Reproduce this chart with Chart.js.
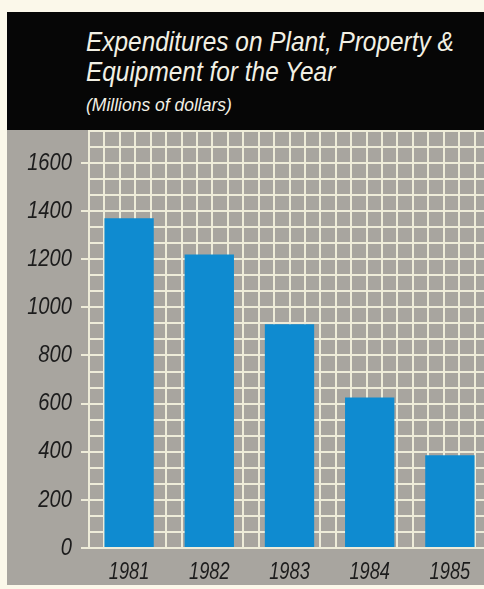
<!DOCTYPE html>
<html>
<head>
<meta charset="utf-8">
<script src="https://cdn.jsdelivr.net/npm/chart.js@4.4.1/dist/chart.umd.min.js"></script>
<style>
  html, body { margin: 0; padding: 0; }
  body { width: 484px; height: 589px; overflow: hidden; background: #fbf8ea; position: relative; }
  .band { position: absolute; left: 7px; top: 12px; width: 490px; height: 118px; background: #060606; }
  .panel { position: absolute; left: 7px; top: 130px; width: 490px; height: 455px; background: #a8a59f; }
  .title, .sub { position: absolute; left: 86px; color: #f2f0e4; font-family: "Liberation Sans", Arial, sans-serif; font-style: italic; white-space: nowrap; transform-origin: 0 0; }
  .title { top: 27px; font-size: 28px; line-height: 29.5px; transform: scaleX(0.872); }
  .sub { top: 95px; font-size: 17.5px; line-height: 20px; }
  .wrap { position: absolute; left: 0; top: 130px; width: 490px; height: 455px; }
</style>
</head>
<body>
<div class="band"></div>
<div class="title">Expenditures on Plant, Property &amp;<br>Equipment for the Year</div>
<div class="sub">(Millions of dollars)</div>
<div class="panel"></div>
<div class="wrap"><canvas id="c"></canvas></div>
<script>
const years = ["1981", "1982", "1983", "1984", "1985"]
const spending = [1370, 1220, 930, 625, 385]
const yLabels = [0, 200, 400, 600, 800, 1000, 1200, 1400, 1600]
const yMax = 1737

// three grid cells per labelled step, 25 cells across
const cellValue = 200 / 3
const cellsAcross = 25

const gridColor = "#eeecd9"
const tickFont = {family: "'Liberation Sans', Arial, sans-serif", style: "italic", size: 24}

function isLabelled(v){
    return yLabels.some(l => Math.abs(l - v) < 0.01)
}

// squeeze the axis numbers horizontally around their anchor point
const condensed = {
    id: "condensed",
    beforeDraw(chart){
        const fill = chart.ctx.fillText
        chart.ctx.fillText = function(t, x, y, w){
            const k = this.textAlign === "center" ? 0.76 : 0.84
            this.save()
            this.translate(x, y)
            this.scale(k, 1)
            fill.call(this, t, 0, 0, w)
            this.restore()
        }
    },
    afterDraw(chart){
        delete chart.ctx.fillText
    }
}

new Chart(document.getElementById("c"), {
    type: "bar",
    data: {
        labels: years,
        datasets: [{
            data: spending,
            backgroundColor: "#0f8bd0",
            barPercentage: 0.615,
            categoryPercentage: 1
        }]
    },
    plugins: [condensed],
    options: {
        responsive: true,
        maintainAspectRatio: false,
        animation: false,
        layout: {padding: 0},
        plugins: {legend: {display: false}, tooltip: {enabled: false}},
        scales: {
            x: {
                position: "bottom",
                grid: {display: false, drawTicks: false},
                border: {display: false},
                ticks: {color: "#1c1c1c", font: tickFont, padding: 10, maxRotation: 0},
                afterFit(s){ s.height = 37; s.paddingLeft = 0; s.paddingRight = 0 }
            },
            cells: {
                type: "linear",
                position: "top",
                min: 0,
                max: cellsAcross,
                afterBuildTicks(s){
                    s.ticks = Array.from({length: cellsAcross + 1}, (_, i) => ({value: i}))
                },
                grid: {color: gridColor, lineWidth: 2, drawTicks: false},
                border: {display: false},
                ticks: {display: false},
                afterFit(s){ s.height = 0; s.paddingLeft = 0; s.paddingRight = 0 }
            },
            y: {
                min: 0,
                max: yMax,
                afterBuildTicks(s){
                    const n = Math.floor(yMax / cellValue)
                    s.ticks = Array.from({length: n + 1}, (_, i) => ({value: i * cellValue}))
                },
                grid: {
                    color: gridColor,
                    lineWidth: 2,
                    tickLength: 8,
                    tickColor: ctx => isLabelled(ctx.tick.value) ? gridColor : "rgba(0,0,0,0)"
                },
                border: {display: false},
                ticks: {
                    autoSkip: false,
                    color: "#1c1c1c",
                    font: tickFont,
                    padding: 9,
                    callback: v => isLabelled(v) ? String(Math.round(v)) : ""
                },
                afterFit(s){ s.width = 89; s.paddingTop = 0; s.paddingBottom = 0 }
            }
        }
    }
})
</script>
</body>
</html>
